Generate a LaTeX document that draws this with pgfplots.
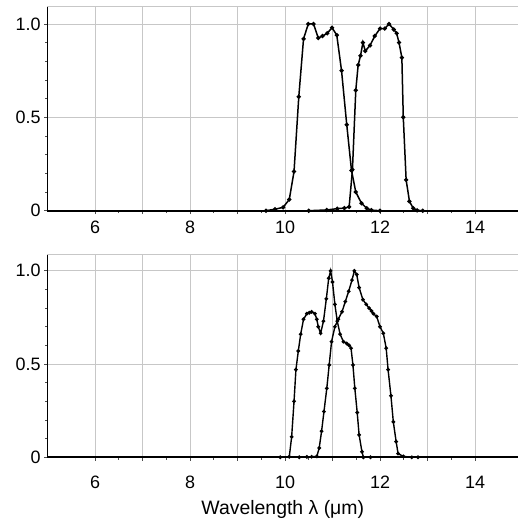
\documentclass[border=0pt]{standalone}
\usepackage{pgfplots}
\pgfplotsset{compat=1.18}
\usepackage{fontspec}
\setmainfont{Liberation Sans}

\pgfplotsset{
  panel/.style={
    scale only axis, width=470.5bp,
    xmin=5, xmax=14.905, ymin=0,
    axis x line*=bottom, axis y line*=left,
    x axis line style={-, line width=1.8bp, black},
    y axis line style={-, line width=1.8bp, black},
    xtick={6,...,14}, xticklabels={6,,8,,10,,12,,14},
    minor x tick num=1,
    ytick={0,0.5,1}, yticklabels={0,0.5,1.0},
    minor y tick num=4,
    grid=major,
    major grid style={draw=black!22, line width=0.7bp},
    tick align=outside,
    major tick length=3.5bp, minor tick length=2.5bp,
    every tick/.style={black!70, line width=0.6bp},
    tick label style={font=\fontsize{18}{18}\selectfont, black},
    /pgf/number format/assume math mode=true,
    cycle list={{black, mark=*}},
    every axis plot/.append style={black, line width=1.5bp, mark=*, mark size=1.3bp, mark options={fill=black}},
  }
}

\begin{document}
\begin{tikzpicture}
\path[use as bounding box] (0,0) rectangle (518bp,-531bp);

% top panel
\begin{axis}[panel, at={(47.5bp,-6bp)}, anchor=north west, height=204.7bp, ymax=1.096,
  extra y ticks={1.096}, extra y tick labels={}, extra y tick style={grid=major, major tick length=0pt},
  xticklabel style={yshift=-3bp}]
\addplot coordinates {
(9.6,0) (9.79,0.008) (9.96,0.018) (10.09,0.06) (10.19,0.21) (10.29,0.61) (10.39,0.92)
(10.49,1.0) (10.60,1.0) (10.70,0.925) (10.79,0.935) (10.89,0.95) (10.99,0.98)
(11.09,0.94) (11.19,0.75) (11.30,0.46) (11.40,0.215) (11.49,0.10) (11.61,0.04)
(11.72,0.013) (11.82,0.003) (12.0,0)
};
\addplot coordinates {
(10.5,0) (10.88,0.004) (11.10,0.011) (11.25,0.014) (11.35,0.02) (11.42,0.22)
(11.49,0.645) (11.54,0.78) (11.59,0.83) (11.64,0.90) (11.69,0.855) (11.79,0.885)
(11.89,0.935) (12.0,0.975) (12.1,0.975) (12.19,1.0) (12.29,0.97) (12.35,0.95)
(12.40,0.90) (12.46,0.82) (12.49,0.50) (12.55,0.165) (12.62,0.05) (12.70,0.013)
(12.78,0.002) (12.9,0)
};
\end{axis}

% bottom panel
\begin{axis}[panel, at={(47.5bp,-254bp)}, anchor=north west, height=203.3bp, ymax=1.09,
  extra y ticks={1.09}, extra y tick labels={}, extra y tick style={grid=major, major tick length=0pt},
  every axis plot/.append style={mark size=1.1bp, line width=1.4bp},
  xticklabel style={yshift=-12bp},
  xlabel={Wavelength λ (μm)},
  xlabel style={font=\fontsize{19.5}{19.5}\selectfont, black, yshift=-5bp}]
\addplot coordinates {
(9.9,0) (10.09,0.003) (10.14,0.11) (10.19,0.30) (10.23,0.47) (10.28,0.57) (10.33,0.66)
(10.39,0.74) (10.46,0.77) (10.51,0.775) (10.56,0.78) (10.63,0.77) (10.67,0.74)
(10.70,0.70) (10.75,0.665) (10.81,0.73) (10.87,0.85) (10.92,0.96) (10.96,1.0)
(11.0,0.94) (11.05,0.82) (11.10,0.73) (11.16,0.66) (11.23,0.62) (11.30,0.61)
(11.35,0.60) (11.39,0.585) (11.43,0.495) (11.47,0.37) (11.52,0.24) (11.56,0.12)
(11.62,0.03) (11.65,0.0) (11.8,0)
};
\addplot coordinates {
(10.3,0) (10.46,0.002) (10.56,0.003) (10.67,0.005) (10.72,0.05) (10.77,0.14)
(10.82,0.245) (10.88,0.37) (10.93,0.495) (10.98,0.62) (11.05,0.70) (11.12,0.74)
(11.20,0.78) (11.27,0.835) (11.34,0.89) (11.41,0.95) (11.46,1.0) (11.51,0.98)
(11.56,0.91) (11.64,0.845) (11.71,0.82) (11.77,0.80) (11.82,0.785) (11.86,0.77)
(11.93,0.755) (12.0,0.70) (12.07,0.665) (12.13,0.585) (12.17,0.47) (12.23,0.33)
(12.28,0.19) (12.34,0.084) (12.38,0.02) (12.49,0.005) (12.67,0.0) (12.8,0)
};
\end{axis}
\end{tikzpicture}
\end{document}
